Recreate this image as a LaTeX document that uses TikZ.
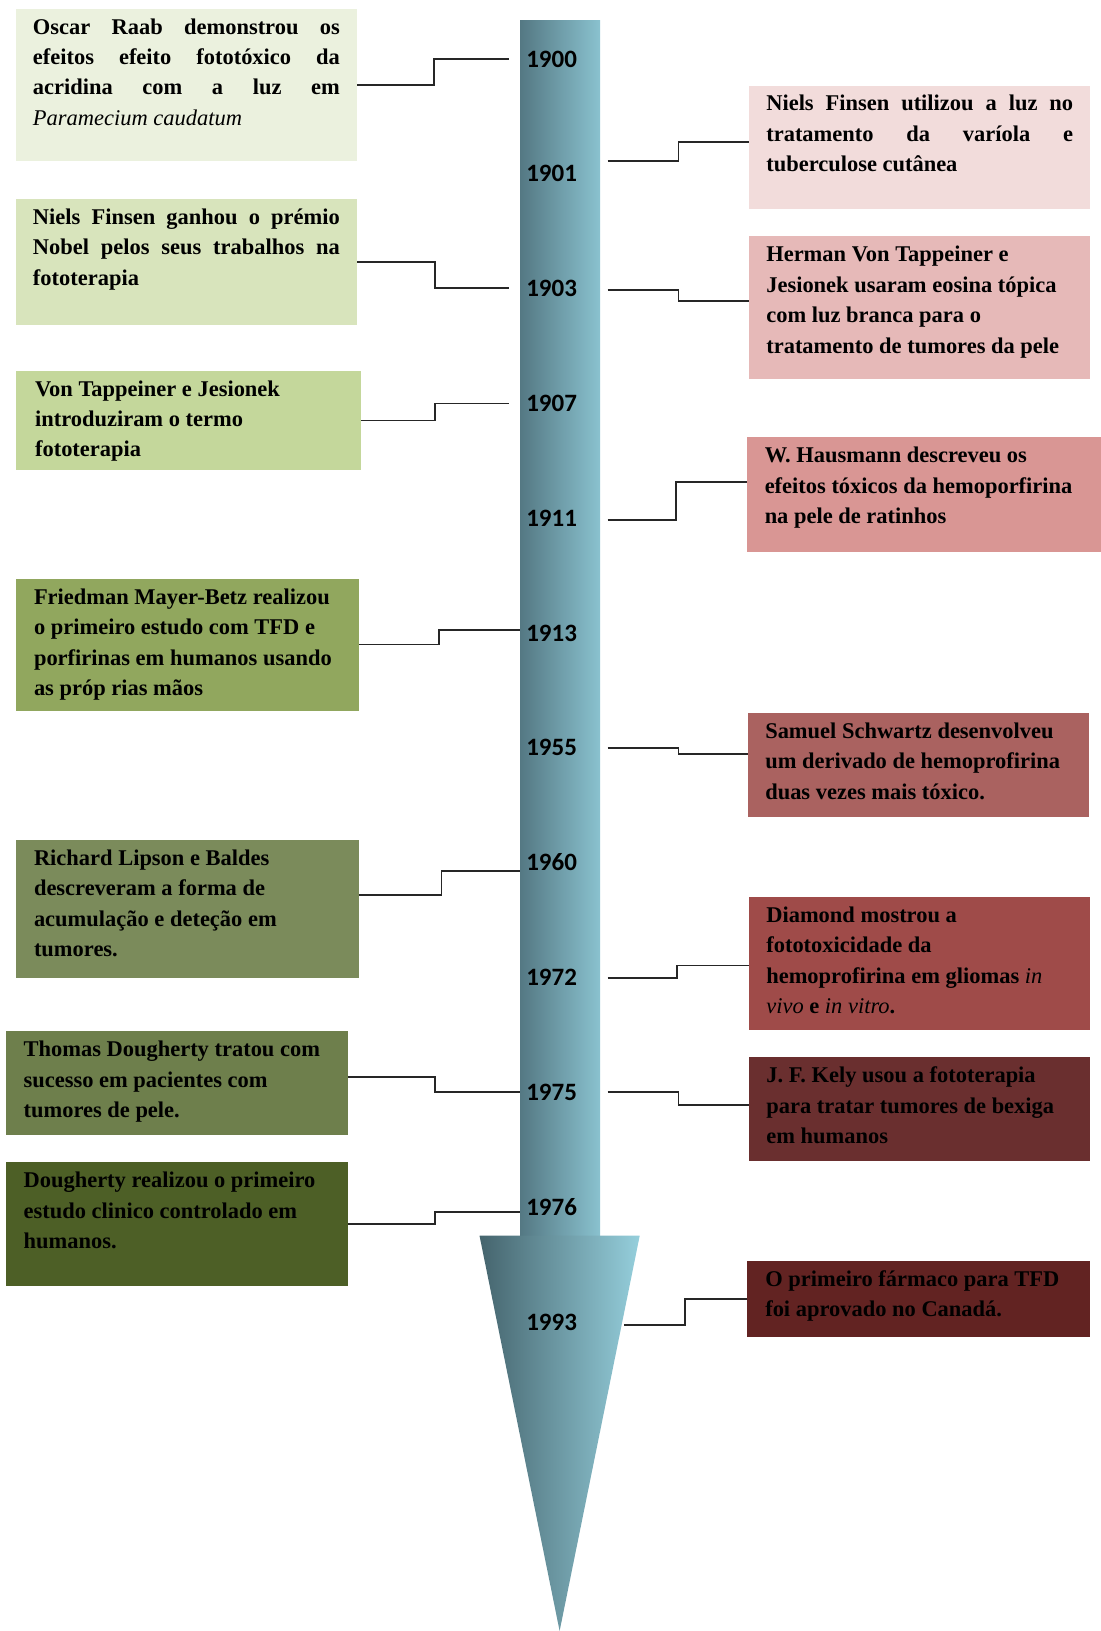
\documentclass[tikz,border=0pt]{standalone}
\usepackage{fontspec}
\usepackage{tikz}
\usepackage{xcolor}
\setmainfont{Liberation Serif}
\newfontfamily\yearfont{Carlito}

\definecolor{shaftdark}{HTML}{547883}
\definecolor{shaftlight}{HTML}{8AC2CF}
\definecolor{headdark}{HTML}{45646D}
\definecolor{headlight}{HTML}{95CFDC}
\definecolor{greenA}{HTML}{EBF1DE}
\definecolor{greenB}{HTML}{D8E4BC}
\definecolor{greenC}{HTML}{C4D79B}
\definecolor{greenD}{HTML}{91A75E}
\definecolor{greenE}{HTML}{7B8B5B}
\definecolor{greenF}{HTML}{6E7F4C}
\definecolor{greenG}{HTML}{4D5F26}
\definecolor{redH}{HTML}{F2DCDB}
\definecolor{redI}{HTML}{E6B9B8}
\definecolor{redJ}{HTML}{D99694}
\definecolor{redK}{HTML}{AA6260}
\definecolor{redL}{HTML}{9F4B49}
\definecolor{redM}{HTML}{6A2F2F}
\definecolor{redN}{HTML}{622322}

\newcommand{\evtext}[3][295pt]{\parbox[t][#2][t]{#1}{\raggedright\strut #3}}
\newcommand{\fullline}[1]{\makebox[\linewidth][s]{#1}}

\begin{document}
\begin{tikzpicture}[x=1pt,y=-1pt,
  evbox/.style={anchor=north west,inner xsep=16.5pt,inner ysep=4pt,minimum width=328pt,font=\bfseries\fontsize{21.6}{29.3}\selectfont},
  yearlabel/.style={font=\yearfont\bfseries\fontsize{24}{28}\selectfont,text width=65pt,align=left,inner xsep=6pt,inner ysep=0pt},
  elbow/.style={draw=black!85,line width=1.7pt}]
  \useasboundingbox (0,0) rectangle (1058,1568);
  % timeline arrow
  \shade[left color=shaftdark,right color=shaftlight] (500,20) rectangle (577,1188);
  \shade[left color=headdark,right color=headlight] (461,1188) -- (615,1188) -- (538,1568) -- cycle;
  % years
  \foreach \yr/\yy in {1900/57,1901/167,1903/277,1907/388,1911/498,1913/609,1955/719,1960/829,1972/940,1975/1050,1976/1160,1993/1271}
    \node[yearlabel] (y\yr) at (538.5,\yy) {\yr};
  % left events
  \node[evbox,fill=greenA] (boxA) at (15,8) {\evtext{139pt}{\fullline{Oscar Raab demonstrou os}\\ \fullline{efeitos efeito fototóxico da}\\ \fullline{acridina com a luz em}\\ {\mdseries\itshape Paramecium caudatum}}};
  \node[evbox,fill=greenB] (boxB) at (15,191) {\evtext{113pt}{\fullline{Niels Finsen ganhou o prémio}\\ \fullline{Nobel pelos seus trabalhos na}\\ fototerapia}};
  \node[evbox,fill=greenC,minimum width=332pt] (boxC) at (15,356) {\evtext{88pt}{Von Tappeiner e Jesionek\\ introduziram o termo\\ fototerapia}};
  \node[evbox,fill=greenD,minimum width=330pt] (boxD) at (15,556) {\evtext{119pt}{Friedman Mayer-Betz realizou\\ o primeiro estudo com TFD e\\ porfirinas em humanos usando\\ as próp rias mãos}};
  \node[evbox,fill=greenE,minimum width=330pt] (boxE) at (15,807) {\evtext{125pt}{Richard Lipson e Baldes\\ descreveram a forma de\\ acumulação e deteção em\\ tumores.}};
  \node[evbox,fill=greenF,minimum width=326pt] (boxF) at (6,991) {\evtext{92pt}{Thomas Dougherty tratou com\\ sucesso em pacientes com\\ tumores de pele.}};
  \node[evbox,fill=greenG,minimum width=326pt] (boxG) at (6,1117) {\evtext{111pt}{Dougherty realizou o primeiro\\ estudo clinico controlado em\\ humanos.}};
  % right events
  \node[evbox,fill=redH] (boxH) at (720,82) {\evtext{111pt}{\fullline{Niels Finsen utilizou a luz no}\\ \fullline{tratamento da varíola e}\\ tuberculose cutânea}};
  \node[evbox,fill=redI] (boxI) at (720,227) {\evtext{129pt}{Herman Von Tappeiner e\\ Jesionek usaram eosina tópica\\ com luz branca para o\\ tratamento de tumores da pele}};
  \node[evbox,fill=redJ,minimum width=340pt] (boxJ) at (718,420) {\evtext[306pt]{102pt}{W. Hausmann descreveu os\\ efeitos tóxicos da hemoporfirina\\ na pele de ratinhos}};
  \node[evbox,fill=redK] (boxK) at (719,685) {\evtext{92pt}{Samuel Schwartz desenvolveu\\ um derivado de hemoprofirina\\ duas vezes mais tóxico.}};
  \node[evbox,fill=redL] (boxL) at (720,862) {\evtext{120pt}{Diamond mostrou a\\ fototoxicidade da\\ hemoprofirina em gliomas {\mdseries\itshape in}\\ {\mdseries\itshape vivo} e {\mdseries\itshape in vitro}.}};
  \node[evbox,fill=redM] (boxM) at (720,1016) {\evtext{92pt}{J. F. Kely usou a fototerapia\\ para tratar tumores de bexiga\\ em humanos}};
  \node[evbox,fill=redN,minimum width=330pt] (boxN) at (718,1212) {\evtext{65pt}{O primeiro fármaco para TFD\\ foi aprovado no Canadá.}};
  % connectors left
  \draw[elbow,shorten >=10pt] (boxA.east) -- ++(74,0) |- (y1900.west);
  \draw[elbow,shorten >=10pt] (boxB.east) -- ++(75,0) |- (y1903.west);
  \draw[elbow,shorten >=10pt] (boxC.east) -- ++(71,0) |- (y1907.west);
  \draw[elbow] (boxD.east) -- ++(77,0) |- ([yshift=3pt]y1913.west);
  \draw[elbow] ([yshift=13.5pt]boxE.east) -- ++(79,0) |- ([yshift=-8pt]y1960.west);
  \draw[elbow] ([yshift=6pt]boxF.east) -- ++(84,0) |- (y1975.west);
  \draw[elbow] (boxG.east) -- ++(84,0) |- ([yshift=-5pt]y1976.west);
  % connectors right
  \draw[elbow,shorten <=7pt] ([yshift=12pt]y1901.east) -- ++(75,0) |- ([yshift=5.5pt]boxH.west);
  \draw[elbow,shorten <=7pt] ([yshift=-2pt]y1903.east) -- ++(75,0) |- ([yshift=6.5pt]boxI.west);
  \draw[elbow,shorten <=7pt] ([yshift=-2pt]y1911.east) -- ++(73,0) |- ([yshift=12pt]boxJ.west);
  \draw[elbow,shorten <=7pt] (y1955.east) -- ++(75,0) |- ([yshift=10pt]boxK.west);
  \draw[elbow,shorten <=7pt] (y1972.east) -- ++(74,0) |- ([yshift=-2pt]boxL.west);
  \draw[elbow,shorten <=7pt] (y1975.east) -- ++(75,0) |- ([yshift=4pt]boxM.west);
  \draw[elbow,shorten <=23pt] ([yshift=-3pt]y1993.east) -- ++(81,0) |- (boxN.west);
\end{tikzpicture}
\end{document}
